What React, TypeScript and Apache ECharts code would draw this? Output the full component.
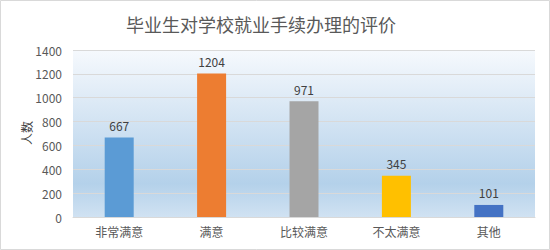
import React, { useEffect, useRef } from "react";
import * as echarts from "echarts";

const categories = ["非常满意", "满意", "比较满意", "不太满意", "其他"];
const values = [667, 1204, 971, 345, 101];
const barColors = ["#5B9BD5", "#ED7D31", "#A5A5A5", "#FFC000", "#4472C4"];
const title = "毕业生对学校就业手续办理的评价";
const yName = "人数";

export default function App() {
  const ref = useRef<HTMLDivElement>(null);
  useEffect(() => {
    if (!ref.current) return;
    const chart = echarts.init(ref.current, undefined, { renderer: "svg" });
    const font = "'Noto Sans CJK SC', 'Microsoft YaHei', sans-serif";
    chart.setOption({
      animation: false,
      backgroundColor: "#ffffff",
      textStyle: { fontFamily: font },
      title: {
        text: title,
        left: 256,
        top: 10,
        textAlign: "center",
        textStyle: { fontSize: 18, fontWeight: "normal", color: "#595959", fontFamily: font },
      },
      graphic: [
        {
          type: "rect",
          shape: { x: 0.5, y: 0.5, width: 549, height: 249 },
          style: { fill: "none", stroke: "#d9d9d9", lineWidth: 1 },
          silent: true,
          z: 100,
        },
        {
          type: "text",
          x: 26,
          y: 133,
          rotation: Math.PI / 2,
          style: {
            text: yName,
            fill: "#404040",
            fontSize: 12,
            fontFamily: font,
            align: "center",
            verticalAlign: "middle",
          },
          silent: true,
        },
      ],
      grid: {
        left: 73,
        right: 15,
        top: 50,
        bottom: 33,
        show: true,
        borderWidth: 0,
        backgroundColor: {
          type: "linear",
          x: 0,
          y: 0,
          x2: 0,
          y2: 1,
          colorStops: [
            { offset: 0, color: "#f6f9fd" },
            { offset: 0.8, color: "#b4d1ea" },
            { offset: 1, color: "#d0e2f2" },
          ],
        },
      },
      xAxis: {
        type: "category",
        data: categories,
        axisTick: { show: false },
        axisLine: { lineStyle: { color: "#d9d9d9" } },
        axisLabel: { color: "#595959", fontSize: 12, margin: 8, fontFamily: font },
      },
      yAxis: {
        type: "value",
        min: 0,
        max: 1400,
        interval: 200,
        axisLine: { show: false },
        axisTick: { show: false },
        splitLine: { lineStyle: { color: "#d9d9d9", width: 1 } },
        axisLabel: {
          color: "#595959",
          fontSize: 12,
          margin: 11,
          fontFamily: font,
          formatter: (v: number) => String(v),
        },
      },
      series: [
        {
          type: "bar",
          barWidth: 29,
          data: values.map((v, i) => ({ value: v, itemStyle: { color: barColors[i] } })),
          label: {
            show: true,
            position: "top",
            distance: 6,
            color: "#404040",
            fontSize: 12,
            fontFamily: font,
          },
        },
      ],
    });
    return () => chart.dispose();
  }, []);
  return (
    <div
      ref={ref}
      style={{ position: "fixed", left: 0, top: 0, width: 550, height: 250 }}
    />
  );
}
